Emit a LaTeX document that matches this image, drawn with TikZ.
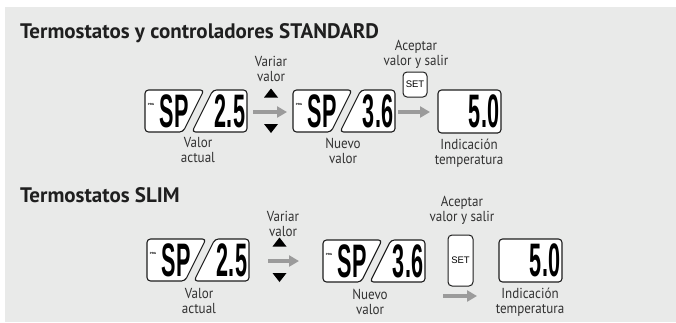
\documentclass[tikz,border=0pt]{standalone}
\usepackage{fontspec}
\setmainfont{PT Sans}
\newfontfamily\lcdfont{Liberation Sans}
\usetikzlibrary{arrows.meta}
\definecolor{bg}{RGB}{233,234,233}
\definecolor{arrowgray}{RGB}{155,155,155}
\definecolor{txt}{RGB}{50,50,50}
\definecolor{frame}{RGB}{30,30,30}

\newcommand\twolines[2]{\scalebox{0.9}[1]{\begin{tabular}[t]{@{}c@{}}#1\\#2\end{tabular}}}
\newcommand\lcdtext[1]{\scalebox{0.46}[1]{#1}}

\tikzset{
 lbl/.style={font=\fontsize{14.5}{15.5}\selectfont, text=txt, inner sep=0, anchor=base},
 ttl/.style={font=\fontsize{21}{25}\selectfont\bfseries, text=black!88, inner sep=0, anchor=base west},
 lcdframe/.style={draw=frame, fill=white, line width=1.1pt, rounded corners=3.5pt},
 lcddigits/.style={font=\lcdfont\bfseries\fontsize{47}{47}\selectfont, inner sep=0, text=black},
 prg/.style={font=\lcdfont\bfseries\fontsize{3}{3}\selectfont, inner sep=0},
 setbtn/.style={draw=frame, fill=white, line width=1pt, rounded corners=4pt, font=\lcdfont\fontsize{9.5}{9.5}\selectfont, inner sep=0},
 grayarrow/.style={draw=arrowgray, line width=4.5pt, -{Triangle[length=10pt,width=11pt]}},
 tri/.style={fill=black},
}

\newcommand\lcdpair[5]{%
 \begin{scope}[shift={(#2,#3)}]
  \draw[lcdframe] (0,0) -- (59,0) -- (38,42) -- (0,42) -- cycle;
  \draw[lcdframe] (68,0) -- (102,0) -- (102,42) -- (47,42) -- cycle;
  \node[prg] (#1-prg) at (6,14) {PRG};
  \node[lcddigits] (#1-l) at (29,21) {\lcdtext{#4}};
  \node[lcddigits] (#1-r) at (85,21) {\lcdtext{#5}};
 \end{scope}}

\newcommand\lcdsingle[4]{%
 \begin{scope}[shift={(#2,#3)}]
  \draw[lcdframe] (0,0) rectangle (63,43);
  \node[lcddigits] (#1-d) at (46,21.5) {\lcdtext{#4}};
 \end{scope}}

\newcommand\updown[3]{% name, x, y(center)
  \coordinate (#1) at (#2,#3);
  \fill[tri] (#2-7,#3-13.5) -- (#2+7,#3-13.5) -- (#2,#3-22.5) -- cycle;
  \fill[tri] (#2-7,#3+13) -- (#2+7,#3+13) -- (#2,#3+22) -- cycle;}

\begin{document}
\begin{tikzpicture}[x=1pt,y=-1pt]
\useasboundingbox (0,0) rectangle (676,322);
\fill[bg] (5,7) rectangle (676,322);

% ---------- Row 1 : STANDARD ----------
\node[ttl] (t1) at (20,38) {Termostatos y controladores STANDARD};

\lcdpair{d1}{145}{90}{SP}{2.5}
\node[lbl] (l1) at (198,147) {\twolines{Valor}{actual}};

\node[lbl] (v1) at (271,66) {\twolines{Variar}{valor}};
\updown{c1}{271}{111}
\coordinate (a1s) at (253,112);
\coordinate (a1e) at (287,112);
\draw[grayarrow] (a1s) -- (a1e);

\lcdpair{d2}{293}{90}{SP}{3.6}
\node[lbl] (l2) at (343,148) {\twolines{Nuevo}{valor}};

\node[lbl] (k1) at (416,50) {\twolines{Aceptar}{valor y salir}};
\node[setbtn, minimum width=24pt, minimum height=25pt] (s1) at (415,84.5) {SET};
\coordinate (a2s) at (398,112);
\coordinate (a2e) at (430,112);
\draw[grayarrow] (a2s) -- (a2e);

\lcdsingle{d3}{438}{90}{5.0}
\node[lbl] (l3) at (469,149) {\twolines{Indicación}{temperatura}};

% ---------- Row 2 : SLIM ----------
\node[ttl] (t2) at (20,202) {Termostatos SLIM};

\lcdpair{e1}{147}{239}{SP}{2.5}
\node[lbl] (m1) at (199,298) {\twolines{Valor}{actual}};

\node[lbl] (v2) at (283,221) {\twolines{Variar}{valor}};
\updown{c2}{279.5}{260}
\coordinate (b1s) at (268,261);
\coordinate (b1e) at (299,261);
\draw[grayarrow] (b1s) -- (b1e);

\lcdpair{e2}{323}{240}{SP}{3.6}
\node[lbl] (m2) at (370,299) {\twolines{Nuevo}{valor}};

\node[lbl] (k2) at (462,206) {\twolines{Aceptar}{valor y salir}};
\node[setbtn, minimum width=25pt, minimum height=51pt] (s2) at (460.5,260.5) {SET};
\coordinate (b2s) at (443,296);
\coordinate (b2e) at (477,296);
\draw[grayarrow] (b2s) -- (b2e);

\lcdsingle{e3}{499}{239}{5.0}
\node[lbl] (m3) at (530,298) {\twolines{Indicación}{temperatura}};
\end{tikzpicture}
\end{document}
